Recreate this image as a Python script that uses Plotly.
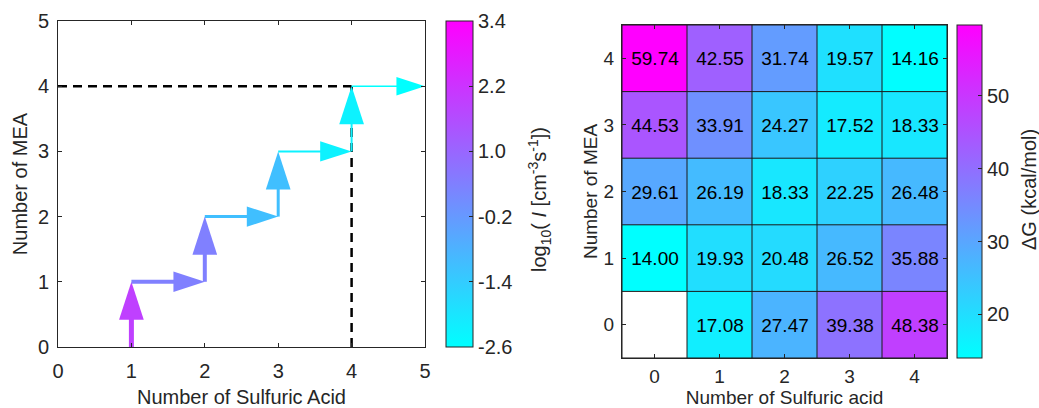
import plotly.graph_objects as go

# ---------------- data ----------------
# left panel: growth pathway arrows (start -> end) and log10 J colour values
arrow_x0 = [1, 1, 2, 2, 3, 3, 4, 4]
arrow_y0 = [0, 1, 1, 2, 2, 3, 3, 4]
arrow_x1 = [1, 2, 2, 3, 3, 4, 4, 5]
arrow_y1 = [1, 1, 2, 2, 3, 3, 4, 4]
arrow_logJ = [1.9, 0.4, 0.4, -1.1, -1.1, -2.3, -2.3, -2.6]
arrow_width = [5, 4, 4, 3, 3, 2, 2, 1.5]
logJ_min, logJ_max = -2.6, 3.4
logJ_ticks = [-2.6, -1.4, -0.2, 1.0, 2.2, 3.4]
dash_point = (4, 4)

# right panel: Delta G heatmap
n_sa = [0, 1, 2, 3, 4]
n_mea = [0, 1, 2, 3, 4]
dG = [
    [None, 17.08, 27.47, 39.38, 48.38],   # MEA 0
    [14.00, 19.93, 20.48, 26.52, 35.88],  # MEA 1
    [29.61, 26.19, 18.33, 22.25, 26.48],  # MEA 2
    [44.53, 33.91, 24.27, 17.52, 18.33],  # MEA 3
    [59.74, 42.55, 31.74, 19.57, 14.16],  # MEA 4
]
dG_ticks = [20, 30, 40, 50]

# ---------------- style ----------------
FONT = "Liberation Sans, Arial, Helvetica, sans-serif"
AX = "#262626"
cool = [[0, "rgb(0,255,255)"], [1, "rgb(255,0,255)"]]
W, H = 1039, 408


def px(x):
    return x / W


def py(y):
    return 1 - y / H


def cool_color(v, vmin, vmax):
    t = max(0.0, min(1.0, (v - vmin) / (vmax - vmin)))
    return "rgb(%d,%d,255)" % (round(255 * t), round(255 * (1 - t)))


fig = go.Figure()

# dashed guide lines
fig.add_trace(go.Scatter(x=[0, dash_point[0]], y=[dash_point[1], dash_point[1]],
                         mode="lines", line=dict(color="black", width=2.5, dash="9px,6px"),
                         xaxis="x", yaxis="y", hoverinfo="skip"))
fig.add_trace(go.Scatter(x=[dash_point[0], dash_point[0]], y=[0, dash_point[1]],
                         mode="lines", line=dict(color="black", width=2.5, dash="9px,6px"),
                         xaxis="x", yaxis="y", hoverinfo="skip"))

# arrows
for i in range(len(arrow_x0)):
    col = cool_color(arrow_logJ[i], logJ_min, logJ_max)
    vertical = arrow_x0[i] == arrow_x1[i]
    hs = 40 if vertical else (33 if i < len(arrow_x0) - 1 else 30)
    fig.add_trace(go.Scatter(
        x=[arrow_x0[i], arrow_x1[i]], y=[arrow_y0[i], arrow_y1[i]],
        mode="lines+markers",
        line=dict(color=col, width=arrow_width[i]),
        marker=dict(symbol="arrow", angleref="previous", size=[0, hs], color=col,
                    opacity=1, line=dict(width=0, color=col)),
        xaxis="x", yaxis="y", hoverinfo="skip"))

# colourbar for left panel
fig.add_trace(go.Scatter(
    x=[None], y=[None], mode="markers", xaxis="x", yaxis="y",
    marker=dict(color=[logJ_min], cmin=logJ_min, cmax=logJ_max, colorscale=cool,
                showscale=True,
                colorbar=dict(
                    x=px(446), xanchor="left", xpad=0, ypad=0,
                    y=py((21 + 347) / 2), yanchor="middle",
                    len=(347 - 21) / H, lenmode="fraction",
                    thickness=27, thicknessmode="pixels",
                    outlinecolor=AX, outlinewidth=1,
                    tickvals=logJ_ticks, ticktext=["%.1f" % v for v in logJ_ticks],
                    ticks="inside", ticklen=4, tickcolor=AX,
                    tickfont=dict(family=FONT, size=20, color=AX),
                )),
    hoverinfo="skip"))

# heatmap
text = [["" if v is None else "%.2f" % v for v in row] for row in dG]
vals = [v for row in dG for v in row if v is not None]
fig.add_trace(go.Heatmap(
    x=n_sa, y=n_mea, z=dG, text=text, texttemplate="%{text}",
    textfont=dict(family=FONT, size=19, color="black"),
    colorscale=cool, zmin=min(vals), zmax=max(vals),
    xaxis="x2", yaxis="y2", hoverinfo="skip",
    colorbar=dict(
        x=px(957), xanchor="left", xpad=0, ypad=0,
        y=py((25 + 358) / 2), yanchor="middle",
        len=(358 - 25) / H, lenmode="fraction",
        thickness=25, thicknessmode="pixels",
        outlinecolor=AX, outlinewidth=1,
        tickvals=dG_ticks, ticks="inside", ticklen=4, tickcolor=AX,
        tickfont=dict(family=FONT, size=20, color=AX),
    )))

# cell borders
gx, gy = [], []
x_edges = [c - 0.5 for c in n_sa] + [n_sa[-1] + 0.5]
y_edges = [c - 0.5 for c in n_mea] + [n_mea[-1] + 0.5]
for xe in x_edges:
    gx += [xe, xe, None]
    gy += [y_edges[0], y_edges[-1], None]
for ye in y_edges:
    gx += [x_edges[0], x_edges[-1], None]
    gy += [ye, ye, None]
fig.add_trace(go.Scatter(x=gx, y=gy, mode="lines", line=dict(color="#1a1a1a", width=1),
                         xaxis="x2", yaxis="y2", hoverinfo="skip"))

common = dict(showgrid=False, zeroline=False, showline=True, linecolor=AX, linewidth=1,
              mirror="ticks", ticks="inside", ticklen=4, tickcolor=AX, tickwidth=1,
              automargin=False)

fig.update_layout(
    template="none",
    width=W, height=H, margin=dict(l=0, r=0, t=0, b=0, pad=0, autoexpand=False),
    paper_bgcolor="white", plot_bgcolor="white", showlegend=False,
    font=dict(family=FONT, color=AX),
    xaxis=dict(domain=[px(58), px(425)], range=[0, 5], tickvals=[0, 1, 2, 3, 4, 5],
               tickfont=dict(size=20), ticklabelstandoff=6,
               title=dict(text="Number of Sulfuric Acid", font=dict(size=20), standoff=9),
               anchor="y", **common),
    yaxis=dict(domain=[py(347), py(21)], range=[0, 5], tickvals=[0, 1, 2, 3, 4, 5],
               tickfont=dict(size=20), ticklabelstandoff=4,
               title=dict(text="Number of MEA", font=dict(size=20), standoff=4),
               anchor="x", **common),
    xaxis2=dict(domain=[px(622), px(947)], range=[-0.5, 4.5], tickvals=n_sa,
                tickfont=dict(size=19), ticklabelstandoff=1,
                title=dict(text="Number of Sulfuric acid", font=dict(size=19), standoff=18),
                anchor="y2", **common),
    yaxis2=dict(domain=[py(358), py(25)], range=[-0.5, 4.5], tickvals=n_mea,
                tickfont=dict(size=19), ticklabelstandoff=3,
                title=dict(text="Number of MEA", font=dict(size=19), standoff=0),
                anchor="x2", **common),
    annotations=[
        dict(text="log<sub>10</sub>( <i>I</i> [cm<sup>-3</sup>s<sup>-1</sup>])",
             xref="paper", yref="paper", x=px(539), y=py(200),
             xanchor="center", yanchor="middle", textangle=-90, showarrow=False,
             font=dict(family=FONT, size=20, color=AX)),
        dict(text="ΔG (kcal/mol)",
             xref="paper", yref="paper", x=px(1029), y=py(190),
             xanchor="center", yanchor="middle", textangle=-90, showarrow=False,
             font=dict(family=FONT, size=20, color=AX)),
    ],
)

# the page body has a default 8px margin; remove it so the figure fills the window
fig.write_html("out.html", config={"displayModeBar": False},
               post_script="document.body.style.margin='0';document.body.style.overflow='hidden';")
